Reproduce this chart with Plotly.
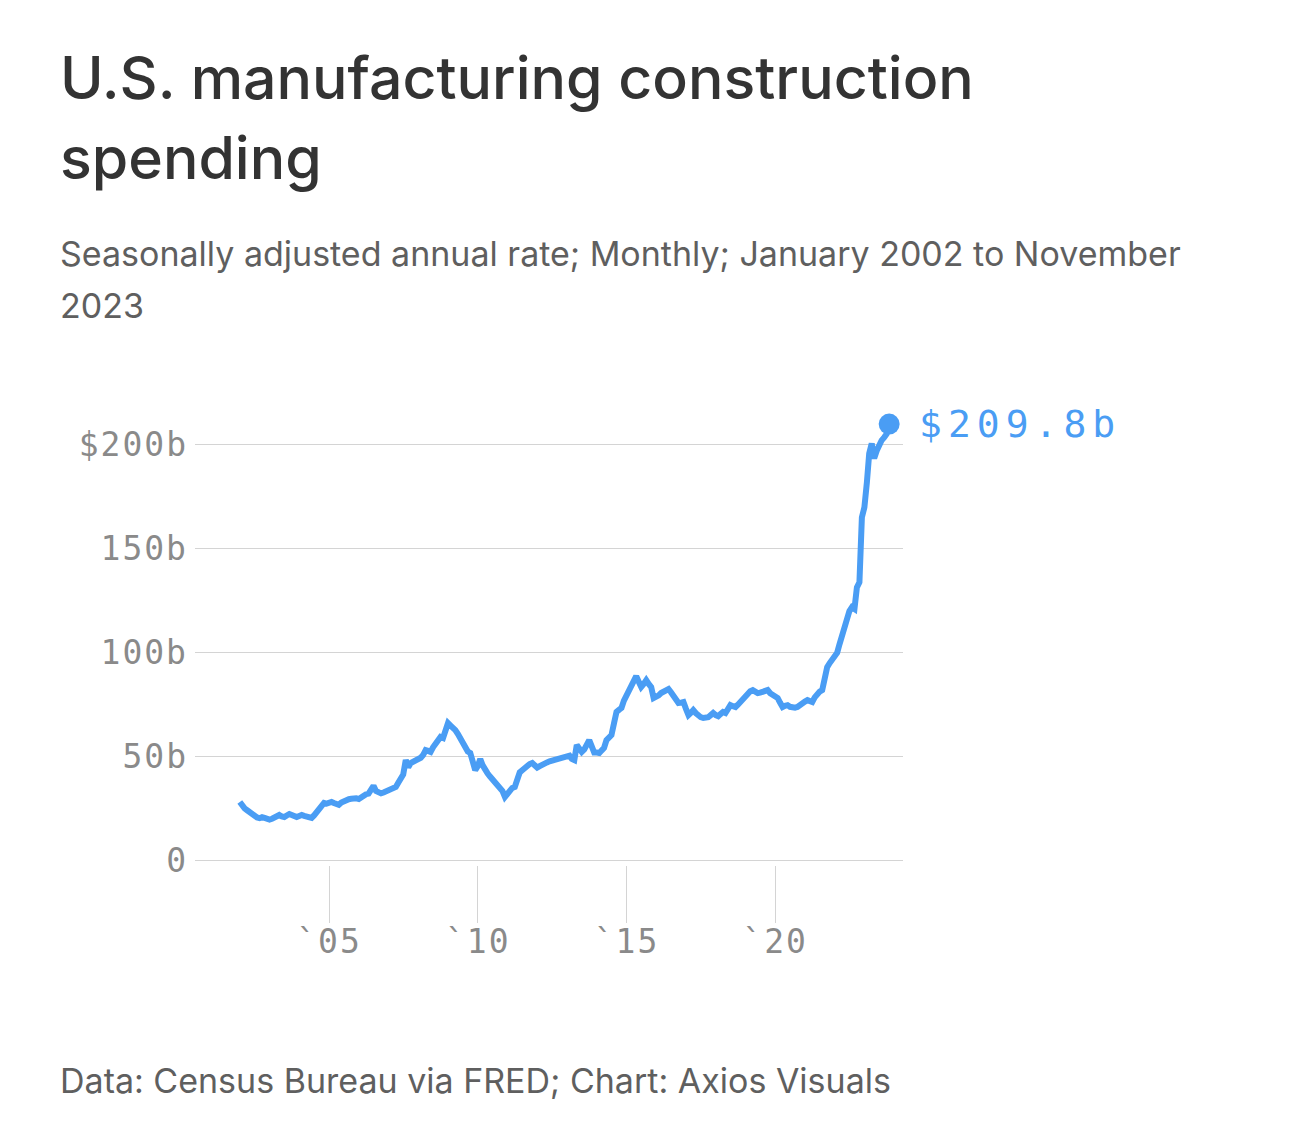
import plotly.graph_objects as go
import pandas as pd

# Monthly values, $ billions (seasonally adjusted annual rate)
y2002 = [28.3, 26.0, 25.2, 24.3, 23.2, 22.5, 21.6, 20.8, 20.5, 21.0, 20.6, 20.0]
y2003 = [19.8, 20.2, 20.6, 21.2, 22.0, 21.3, 21.0, 21.8, 22.5, 22.0, 21.3, 21.0]
y2004 = [21.5, 22.0, 21.6, 21.0, 20.8, 20.6, 21.8, 23.5, 25.2, 27.0, 27.8, 27.5]
y2005 = [27.8, 28.3, 27.8, 27.2, 26.9, 28.0, 28.8, 29.3, 29.6, 29.8, 30.2, 30.0]
y2006 = [29.7, 30.5, 31.6, 32.0, 32.3, 34.0, 36.0, 33.5, 32.6, 32.4, 32.8, 33.5]
y2007 = [34.0, 34.5, 35.0, 35.5, 37.5, 40.2, 41.5, 48.4, 45.0, 47.0, 47.5, 48.0]
y2008 = [48.4, 49.5, 50.8, 53.2, 52.8, 52.3, 54.5, 56.5, 58.5, 59.5, 59.0, 62.0]
y2009 = [66.2, 65.0, 64.3, 62.8, 61.0, 58.5, 56.0, 53.5, 52.5, 51.8, 48.0, 43.6]
y2010 = [45.5, 48.9, 46.0, 43.6, 42.0, 40.5, 39.0, 37.5, 36.5, 35.5, 33.5, 30.7]
y2011 = [32.5, 34.0, 35.0, 35.5, 40.0, 42.5, 43.5, 44.5, 46.0, 46.5, 47.0, 45.5]
y2012 = [44.8, 45.5, 46.3, 47.0, 47.3, 47.8, 48.2, 48.6, 49.0, 49.4, 49.8, 50.2]
y2013 = [50.8, 50.5, 49.0, 48.4, 55.6, 54.0, 52.3, 53.5, 55.5, 58.0, 55.0, 52.0]
y2014 = [52.0, 51.8, 53.0, 54.2, 58.0, 59.0, 60.4, 66.0, 71.5, 72.5, 73.4, 77.0]
y2015 = [79.6, 81.0, 83.0, 85.5, 88.7, 86.0, 83.5, 85.0, 86.8, 85.0, 83.5, 78.2]
y2016 = [78.5, 79.5, 80.6, 81.5, 82.0, 82.5, 81.0, 79.6, 77.5, 75.8, 76.0, 76.3]
y2017 = [73.0, 70.0, 71.0, 72.4, 71.0, 69.8, 69.0, 68.6, 68.8, 69.0, 70.0, 71.0]
y2018 = [70.0, 69.5, 70.5, 71.5, 71.0, 73.0, 74.8, 74.3, 73.9, 75.0, 76.3, 78.0]
y2019 = [79.0, 80.6, 81.5, 82.0, 81.0, 80.6, 80.8, 81.0, 81.5, 82.0, 80.5, 79.6]
y2020 = [79.0, 78.2, 76.0, 73.9, 74.5, 74.8, 74.0, 73.4, 73.6, 73.9, 75.0, 75.8]
y2021 = [76.5, 77.2, 76.8, 76.3, 78.5, 80.6, 81.3, 82.0, 88.0, 93.0, 95.0, 96.4]
y2022 = [98.0, 100.0, 104.0, 108.4, 110.0, 117.0, 120.0, 121.8, 121.0, 131.4, 133.8, 165.0]
y2023 = [169.8, 182.0, 195.7, 200.5, 193.3, 197.0, 200.5, 202.0, 203.4, 205.0, 209.8]

values = (y2002 + y2003 + y2004 + y2005 + y2006 + y2007 + y2008 + y2009 + y2010 +
          y2011 + y2012 + y2013 + y2014 + y2015 + y2016 + y2017 + y2018 + y2019 +
          y2020 + y2021 + y2022 + y2023)
dates = pd.date_range("2002-01-01", periods=len(values), freq="MS")

x_tick_vals = ["2005-01-01", "2010-01-01", "2015-01-01", "2020-01-01"]
x_tick_text = ["`05", "`10", "`15", "`20"]
y_tick_vals = [0, 50, 100, 150, 200]
y_tick_text = ["0", "50b", "100b", "150b", "$200b"]
last_label = "$209.8b"

BLUE = "#4a9df4"
GRAY = "#8a8a8a"
GRID = "#d4d4d4"
MONO = "DejaVu Sans Mono"
SANS = "Inter"

OFF = 8  # page body margin
W, H = 1282, 1134
L, R = 195 - OFF, 903 - OFF
TOP, BOT = 381.5 - OFF, 865.2 - OFF


def px(xp):
    return (xp - OFF - L) / (R - L)


def py(yp):
    return (BOT - (yp - OFF)) / (BOT - TOP)


def spaced(s, sp):
    return f'<span style="letter-spacing:{sp}px">{s}</span>'


fig = go.Figure()
fig.add_trace(go.Scatter(
    x=dates, y=values, mode="lines",
    line=dict(color=BLUE, width=6, shape="linear"),
    hoverinfo="skip", showlegend=False,
))
fig.add_trace(go.Scatter(
    x=[dates[-1]], y=[values[-1]], mode="markers",
    marker=dict(color=BLUE, size=21),
    hoverinfo="skip", showlegend=False,
))

annotations = [
    dict(text=spaced(last_label, 6), x=dates[-1], y=values[-1], xref="x", yref="y",
         xanchor="left", yanchor="middle", xshift=28, yshift=0, showarrow=False,
         font=dict(family=MONO, size=38, color=BLUE)),
    dict(text="U.S. manufacturing construction", x=px(58), y=py(77),
         xref="paper", yref="paper", xanchor="left", yanchor="middle",
         showarrow=False, font=dict(family=SANS, size=59, color="#333333", weight=500)),
    dict(text="spending", x=px(58), y=py(157),
         xref="paper", yref="paper", xanchor="left", yanchor="middle",
         showarrow=False, font=dict(family=SANS, size=59, color="#333333", weight=500)),
    dict(text="Seasonally adjusted annual rate; Monthly; January 2002 to November",
         x=px(58), y=py(253), xref="paper", yref="paper", xanchor="left", yanchor="middle",
         showarrow=False, font=dict(family=SANS, size=34, color="#5f5f5f")),
    dict(text="2023", x=px(58), y=py(305), xref="paper", yref="paper",
         xanchor="left", yanchor="middle",
         showarrow=False, font=dict(family=SANS, size=34, color="#5f5f5f")),
    dict(text="Data: Census Bureau via FRED; Chart: Axios Visuals", x=px(58), y=py(1081),
         xref="paper", yref="paper", xanchor="left", yanchor="middle",
         showarrow=False, font=dict(family=SANS, size=34, color="#5f5f5f")),
]

fig.update_layout(
    width=W, height=H,
    margin=dict(l=L, r=W - R, t=TOP, b=H - BOT, pad=0),
    paper_bgcolor="white", plot_bgcolor="white",
    annotations=annotations,
    xaxis=dict(
        type="date",
        range=["2000-06-30", "2024-04-19"],
        tickvals=x_tick_vals, ticktext=[spaced(t, 2) for t in x_tick_text],
        ticks="outside", ticklen=57, tickcolor=GRID, tickwidth=1,
        ticklabelstandoff=-10,
        showgrid=False, zeroline=False, showline=False,
        tickfont=dict(family=MONO, size=33, color=GRAY),
        fixedrange=True,
    ),
    yaxis=dict(
        range=[-2, 230],
        tickvals=y_tick_vals, ticktext=[spaced(t, 2) for t in y_tick_text],
        showgrid=True, gridcolor=GRID, gridwidth=1,
        zeroline=False, showline=False, ticks="",
        ticklabelstandoff=6,
        tickfont=dict(family=MONO, size=33, color=GRAY),
        fixedrange=True,
    ),
)

fig.write_html("out.html")
